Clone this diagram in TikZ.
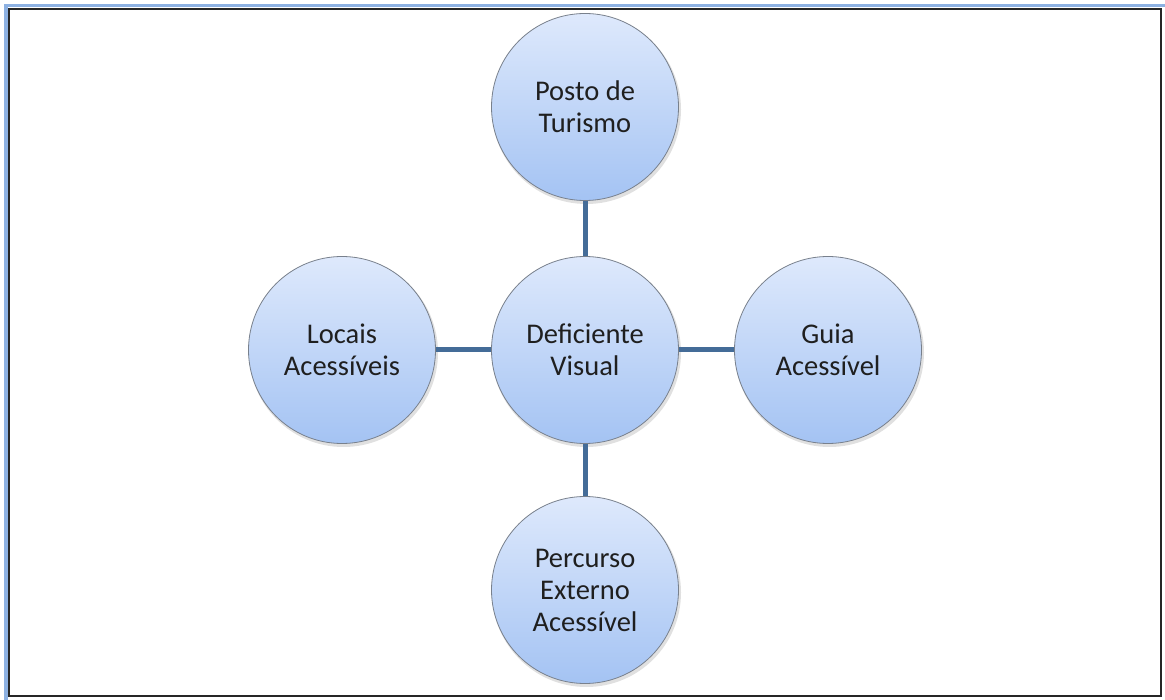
\documentclass[tikz,border=0pt]{standalone}
\usepackage{fontspec}
\setmainfont{Carlito}
\definecolor{linkblue}{RGB}{68,108,152}
\definecolor{framblue}{RGB}{141,177,226}
\definecolor{topfill}{RGB}{222,233,252}
\definecolor{botfill}{RGB}{164,195,243}
\definecolor{ringgray}{RGB}{120,128,140}
\tikzset{
  bubble/.style={circle, minimum size=187pt, inner sep=0pt, draw=ringgray, line width=0.8pt,
    top color=topfill, bottom color=botfill, align=center,
    font=\fontsize{28.5}{32}\selectfont, text=black!88},
  bubshadow/.style={circle, minimum size=189pt, inner sep=0pt, fill=black, opacity=0.12},
  link/.style={draw=linkblue, line width=5pt}
}
\begin{document}
\begin{tikzpicture}[x=1pt,y=-1pt]
\useasboundingbox (0,0) rectangle (1165,700);
\fill[white] (0,0) rectangle (1165,700);
% outer blue band
\fill[framblue] (4,4) rectangle (1165,7);
\fill[framblue] (4,4) rectangle (7.5,700);
% inner dark frame
\draw[black!85, line width=1.8pt] (9,9) rectangle (1161,696);
% shadows
\foreach \px/\py [count=\i] in {585/107,585/350,342/350,828/350,585/590}
  \node[bubshadow] (sh\i) at (\px+1.5,\py+2.5) {};
% nodes
\node[bubble] (top) at (585,107) {Posto de\\Turismo};
\node[bubble] (ctr) at (585,350) {Deficiente\\Visual};
\node[bubble] (lft) at (342,350) {Locais\\Acessíveis};
\node[bubble] (rgt) at (828,350) {Guia\\Acessível};
\node[bubble] (bot) at (585,590) {Percurso\\Externo\\Acessível};
% connectors
\draw[link] (ctr.north) -- (top.south);
\draw[link] (ctr.south) -- (bot.north);
\draw[link] (ctr.west) -- (lft.east);
\draw[link] (ctr.east) -- (rgt.west);
\end{tikzpicture}
\end{document}
